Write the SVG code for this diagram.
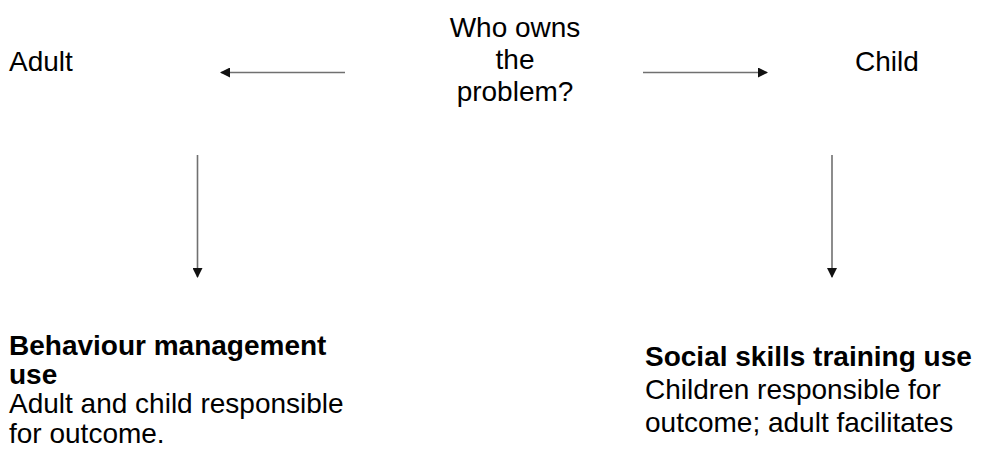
<svg xmlns="http://www.w3.org/2000/svg" width="990" height="454" viewBox="0 0 990 454">
  <style>
    text { font-family: "Liberation Sans", Arial, sans-serif; font-size: 28px; fill: #000; }
    .b { font-weight: bold; }
    .mid { text-anchor: middle; }
    .conn line { stroke: #707070; stroke-width: 1.6; }
  </style>
  <defs>
    <marker id="head" viewBox="0 0 10 10" refX="9" refY="5" markerWidth="10" markerHeight="10" markerUnits="userSpaceOnUse" orient="auto">
      <path d="M0,0 L10,5 L0,10 Z" fill="#111"/>
    </marker>
  </defs>

  <g id="question">
    <text class="mid" x="515" y="37">Who owns</text>
    <text class="mid" x="515" y="69">the</text>
    <text class="mid" x="515" y="101">problem?</text>
  </g>

  <g id="adult">
    <text x="9" y="71">Adult</text>
  </g>

  <g id="child">
    <text x="855" y="71">Child</text>
  </g>

  <g id="behaviour-management">
    <text class="b" x="9" y="355">Behaviour management</text>
    <text class="b" x="9" y="384">use</text>
    <text x="9" y="413">Adult and child responsible</text>
    <text x="9" y="443">for outcome.</text>
  </g>

  <g id="social-skills">
    <text class="b" x="645" y="366">Social skills training use</text>
    <text x="645" y="399">Children responsible for</text>
    <text x="645" y="432">outcome; adult facilitates</text>
  </g>

  <g id="connectors" class="conn">
    <line x1="345" y1="72.5" x2="221" y2="72.5" marker-end="url(#head)"/>
    <line x1="643" y1="72.5" x2="767" y2="72.5" marker-end="url(#head)"/>
    <line x1="197.5" y1="155" x2="197.5" y2="277" marker-end="url(#head)"/>
    <line x1="832" y1="155" x2="832" y2="277" marker-end="url(#head)"/>
  </g>
</svg>
